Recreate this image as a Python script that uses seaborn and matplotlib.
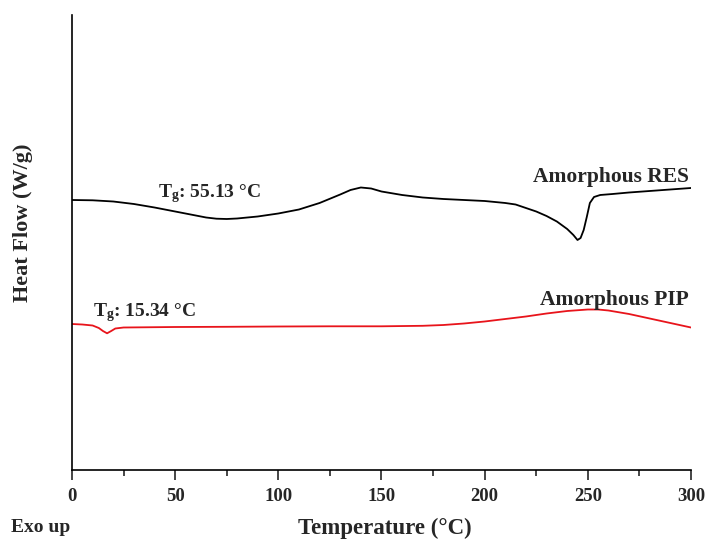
import matplotlib
matplotlib.use("Agg")
import matplotlib.pyplot as plt
import seaborn as sns
import pandas as pd

# DSC traces (heat flow in arbitrary offset units, exo up)
res_temp = [0, 10, 20, 30, 40, 50, 60, 65, 70, 75, 80, 90, 100, 110, 120, 130,
            135, 140, 145, 150, 160, 170, 180, 190, 200, 210, 215, 220, 225, 230,
            235, 240, 243, 245, 246.5, 248, 249.5, 251, 253, 256, 262, 270, 280,
            290, 300]
res_flow = [5.40, 5.394, 5.37, 5.32, 5.25, 5.17, 5.09, 5.05, 5.026, 5.02, 5.03,
            5.07, 5.13, 5.21, 5.34, 5.51, 5.60, 5.65, 5.63, 5.57, 5.50, 5.45,
            5.42, 5.40, 5.38, 5.34, 5.31, 5.24, 5.17, 5.08, 4.97, 4.82, 4.70,
            4.60, 4.64, 4.80, 5.06, 5.34, 5.46, 5.50, 5.52, 5.55, 5.58, 5.61, 5.64]

pip_temp = [0, 5, 10, 13, 15, 17, 19, 21, 25, 35, 50, 75, 100, 125, 150, 170,
            180, 190, 200, 210, 220, 230, 240, 250, 255, 260, 270, 280, 290, 300]
pip_flow = [2.92, 2.91, 2.89, 2.84, 2.78, 2.734, 2.78, 2.83, 2.85, 2.854, 2.86,
            2.864, 2.87, 2.874, 2.874, 2.884, 2.90, 2.93, 2.97, 3.02, 3.07, 3.13,
            3.18, 3.21, 3.21, 3.19, 3.12, 3.03, 2.94, 2.85]

x_ticks = [0, 50, 100, 150, 200, 250, 300]

res_label = "Amorphous RES"
pip_label = "Amorphous PIP"
res_tg = 55.13
pip_tg = 15.34

sns.set_style("ticks")
plt.rcParams["font.family"] = ["Liberation Serif", "DejaVu Serif"]
plt.rcParams["font.weight"] = "bold"
plt.rcParams["mathtext.fontset"] = "custom"
plt.rcParams["mathtext.rm"] = "Liberation Serif:bold"
plt.rcParams["mathtext.bf"] = "Liberation Serif:bold"
plt.rcParams["mathtext.it"] = "Liberation Serif:bold"

fig = plt.figure(figsize=(7.1, 5.45), dpi=100)
ax = fig.add_axes([0.1014, 0.1376, 0.8718, 0.8349])

res_df = pd.DataFrame({"Temperature": res_temp, "HeatFlow": res_flow})
pip_df = pd.DataFrame({"Temperature": pip_temp, "HeatFlow": pip_flow})

sns.lineplot(data=res_df, x="Temperature", y="HeatFlow", ax=ax,
             color="black", linewidth=1.3, sort=False)
sns.lineplot(data=pip_df, x="Temperature", y="HeatFlow", ax=ax,
             color="#e8141b", linewidth=1.3, sort=False)

ax.set_xlim(0, 300)
ax.set_ylim(0, 9.1)
ax.set_xticks(x_ticks)
ax.set_xticks(range(25, 300, 50), minor=True)
ax.set_yticks([])
ax.tick_params(axis="x", which="major", length=7, width=1.2, direction="out",
               labelsize=13.5, pad=6)
ax.tick_params(axis="x", which="minor", length=4, width=1.2, direction="out")
for lbl in ax.get_xticklabels():
    lbl.set_fontweight("bold")

for side in ("top", "right"):
    ax.spines[side].set_visible(False)
for side in ("left", "bottom"):
    ax.spines[side].set_linewidth(1.2)
    ax.spines[side].set_color("black")

ax.set_xlabel("Temperature (\u00b0C)", fontsize=16.5, fontweight="bold")
ax.xaxis.set_label_coords(0.505, -0.105)
ax.set_ylabel("Heat Flow (W/g)", fontsize=16, fontweight="bold")
ax.yaxis.set_label_coords(-0.063, 0.543)

ax.text(299, 5.76, res_label, ha="right", va="baseline", fontsize=15.5,
        fontweight="bold")
ax.text(299, 3.30, pip_label, ha="right", va="baseline", fontsize=15.5,
        fontweight="bold")
ax.text(41.7, 5.46, r"T$_{\mathrm{g}}$" + f": {res_tg:.2f} \u00b0C", ha="left",
        va="baseline", fontsize=14, fontweight="bold")
ax.text(10.2, 3.08, r"T$_{\mathrm{g}}$" + f": {pip_tg:.2f} \u00b0C", ha="left",
        va="baseline", fontsize=14, fontweight="bold")

fig.text(0.015, 0.032, "Exo up", ha="left", va="center", fontsize=14,
         fontweight="bold")

fig.savefig("out.png", dpi=100, facecolor="white")
